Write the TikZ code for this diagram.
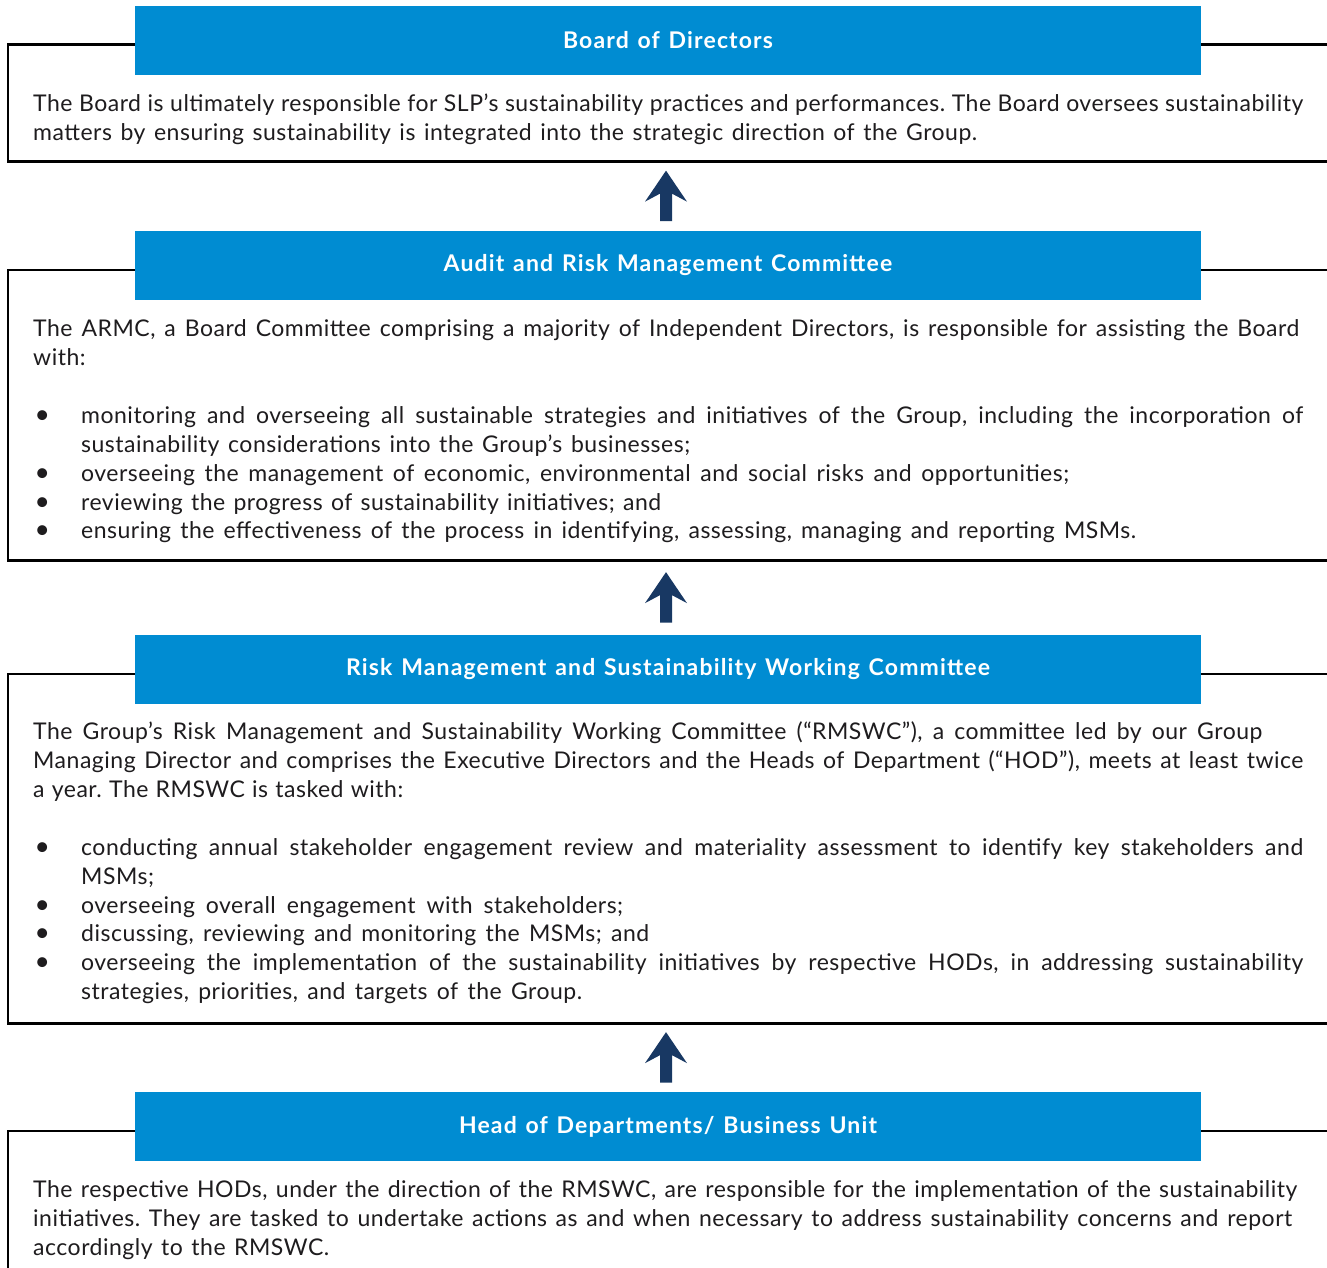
\documentclass[tikz,border=0pt]{standalone}
\usepackage{fontspec}
\setmainfont{Lato}[WordSpace=1.2, LetterSpace=2.2]
\newfontfamily\hdfont{Lato}[WordSpace=1.3, LetterSpace=5]
\usetikzlibrary{calc}

\definecolor{hdblue}{RGB}{0,140,210}
\definecolor{arrownavy}{RGB}{24,56,99}
\definecolor{ink}{RGB}{30,28,30}

% interword glue that fills a line set to a given right end
\newcommand\fitspaces{\spaceskip=\fontdimen2\font plus 1fil minus .6\fontdimen2\font\relax}
% lines of running text; #1 is the x of the right end of the line
\newcommand\fitline[2]{\hbox{\hbox to \dimexpr#1pt-33pt\relax{\fitspaces#2}}}
\newcommand\natline[1]{\hbox{#1}}
% bullet items: first line with the bullet, continuation lines indented
\newcommand\bulmark{\hbox to 48pt{\hskip1.5pt\scalebox{1.15}{\textbullet}\hfil}}
\newcommand\fitbul[2]{\hbox{\hbox to \dimexpr#1pt-33pt\relax{\fitspaces\bulmark#2}}}
\newcommand\fitcont[2]{\hbox{\hbox to \dimexpr#1pt-33pt\relax{\fitspaces\hskip48pt\relax#2}}}
\newcommand\natcont[1]{\hbox{\hskip48pt\relax#1}}
\newcommand\gap{\vskip29.3pt}

% fat upward arrow centred between two points
\newcommand\uparrowbetween[2]{%
  \path ($(#1)!0.5!(#2)$) coordinate (arrowmid);
  \fill[arrownavy] ([shift={(0,-25.5)}]arrowmid) -- ++(21,31) -- ++(-15,-8)
    -- ++(0,27.5) -- ++(-12,0) -- ++(0,-27.5) -- ++(-15,8) -- cycle;
}

\begin{document}
\frenchspacing
\begin{tikzpicture}[x=1pt,y=-1pt,
  header/.style={fill=hdblue, text=white, inner sep=0pt,
    font=\hdfont\fontsize{23}{26}\selectfont\bfseries,
    minimum width=1066pt, minimum height=69pt},
  frameline/.style={draw=black, line width=2.4pt},
  body/.style={text=ink, inner sep=0pt, anchor=base west, text width=1271pt,
    font=\fontsize{23}{28.8}\selectfont\frenchspacing},
]
\useasboundingbox[fill=white] (0,0) rectangle (1327,1268);

% ---- frames (open on the right) ----
\draw[frameline] (1327,44.7) -| (8,161.5) -- (1327,161.5);
\draw[frameline] (1327,269.7) -| (8,560.5) -- (1327,560.5);
\draw[frameline] (1327,673.7) -| (8,1023.5) -- (1327,1023.5);
\draw[frameline] (1327,1131) -| (8,1272);

% ---- header bars ----
\node[header] (hdA) at (668,40.5) {Board of Directors};
\node[header] (hdB) at (668,265.5) {Audit and Risk Management Committee};
\node[header] (hdC) at (668,669.5) {Risk Management and Sustainability Working Committee};
\node[header] (hdD) at (668,1126.5) {Head of Departments/ Business Unit};

% ---- body texts ----
\node[body] (txA) at (33,111.7) {%
\fitline{1303}{The Board is ultimately responsible for SLP’s sustainability practices and performances. The Board oversees sustainability}
\fitline{977}{matters by ensuring sustainability is integrated into the strategic direction of the Group.}};

\node[body] (txB) at (33,336.7) {%
\fitline{1299}{The ARMC, a Board Committee comprising a majority of Independent Directors, is responsible for assisting the Board}
\natline{with:}
\gap
\fitbul{1303}{monitoring and overseeing all sustainable strategies and initiatives of the Group, including the incorporation of}
\fitcont{690}{sustainability considerations into the Group’s businesses;}
\fitbul{1069}{overseeing the management of economic, environmental and social risks and opportunities;}
\fitbul{661}{reviewing the progress of sustainability initiatives; and}
\fitbul{1136}{ensuring the effectiveness of the process in identifying, assessing, managing and reporting MSMs.}};

\node[body] (txC) at (33,739.7) {%
\fitline{1262}{The Group’s Risk Management and Sustainability Working Committee (“RMSWC”), a committee led by our Group}
\fitline{1303}{Managing Director and comprises the Executive Directors and the Heads of Department (“HOD”), meets at least twice}
\fitline{403}{a year. The RMSWC is tasked with:}
\gap
\fitbul{1303}{conducting annual stakeholder engagement review and materiality assessment to identify key stakeholders and}
\natcont{MSMs;}
\fitbul{623}{overseeing overall engagement with stakeholders;}
\fitbul{649}{discussing, reviewing and monitoring the MSMs; and}
\fitbul{1303}{overseeing the implementation of the sustainability initiatives by respective HODs, in addressing sustainability}
\fitcont{582}{strategies, priorities, and targets of the Group.}};

\node[body] (txD) at (33,1197.7) {%
\fitline{1297}{The respective HODs, under the direction of the RMSWC, are responsible for the implementation of the sustainability}
\fitline{1292}{initiatives. They are tasked to undertake actions as and when necessary to address sustainability concerns and report}
\fitline{329}{accordingly to the RMSWC.}};

% ---- connectors between the levels ----
\coordinate (frA-s) at (666,161.5);
\coordinate (frB-s) at (666,560.5);
\coordinate (frC-s) at (666,1023.5);
\uparrowbetween{frA-s}{hdB.north -| frA-s}
\uparrowbetween{frB-s}{hdC.north -| frB-s}
\uparrowbetween{frC-s}{hdD.north -| frC-s}
\end{tikzpicture}
\end{document}
